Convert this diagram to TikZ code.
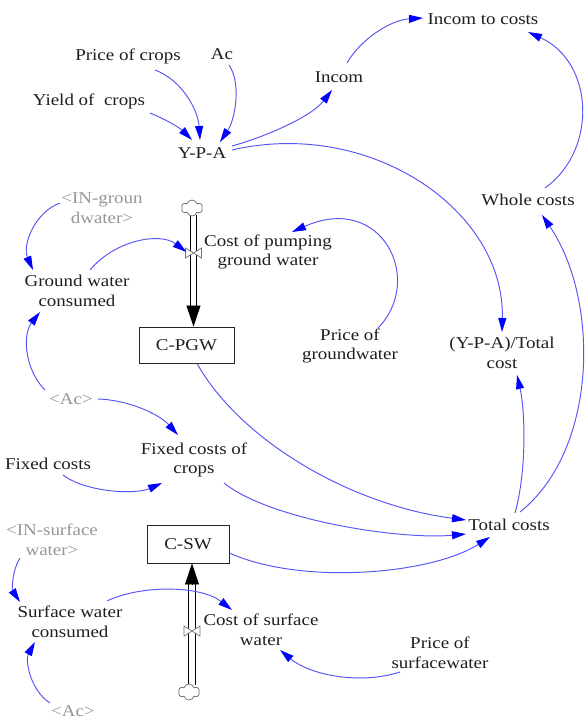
\documentclass[tikz,border=0pt]{standalone}
\usepackage{fontspec}
\setmainfont{Liberation Serif}[FakeStretch=1.15]
\usetikzlibrary{arrows.meta,calc,shapes.symbols}
\definecolor{lnk}{RGB}{85,85,245}
\definecolor{tipblue}{RGB}{0,0,255}
\definecolor{txt}{RGB}{30,30,30}
\definecolor{shadowtxt}{RGB}{150,150,150}
\begin{document}
\begin{tikzpicture}[x=1pt,y=-1pt,
  lbl/.style={font=\fontsize{16.5}{19.5}\selectfont, text=txt, align=center, inner sep=1pt},
  shd/.style={lbl, text=shadowtxt},
  stockbox/.style={lbl, draw=black!85, line width=0.9pt, inner sep=0pt},
  link/.style={draw=lnk, line width=0.95pt, -{Triangle[length=14pt,width=8pt,color=tipblue]}},
  pipeline/.style={draw=black, line width=0.75pt},
  flowtip/.style={-{Triangle[length=21pt,width=14pt,color=black]}, line width=0.7pt},
  valvestyle/.style={draw=black!55, fill=white, line width=0.7pt},
  cloudstyle/.style={cloud, cloud puffs=6, draw=black!60, fill=white, line width=0.7pt, minimum width=21pt, minimum height=16pt, inner sep=0pt, aspect=1.3}
]
\useasboundingbox (0,0) rectangle (585,720);

% variables
\node[lbl] (inc2c) at (483,19) {Incom to costs};
\node[lbl] (poc) at (128,56) {Price of crops};
\node[lbl] (ac) at (222,54) {Ac};
\node[lbl] (yoc) at (89,101) {Yield of\ \ crops};
\node[lbl] (ypa) at (202,153) {Y-P-A};
\node[lbl] (incom) at (339,77) {Incom};
\node[lbl] (whole) at (528,200) {Whole costs};
\node[shd] (ingw) at (102,208) {<IN-groun\\dwater>};
\node[lbl] (cpgw) at (268,252) {Cost of pumping\\ground water};
\node[lbl] (gwc) at (77,291) {Ground water\\consumed};
\node[stockbox, minimum width=95pt, minimum height=36pt] (cpgwbox) at (186.5,345) {C-PGW};
\node[lbl] (pgw) at (350,346) {Price of\\groundwater};
\node[lbl] (ratio) at (502,353) {(Y-P-A)/Total\\cost};
\node[shd] (acm) at (71,399) {<Ac>};
\node[lbl] (fcc) at (194,460) {Fixed costs of\\crops};
\node[lbl] (fc) at (48,464) {Fixed costs};
\node[lbl] (tc) at (509,525) {Total costs};
\node[shd] (insw) at (52,540) {<IN-surface\\water>};
\node[stockbox, minimum width=82pt, minimum height=38pt] (cswbox) at (188,544) {C-SW};
\node[lbl] (swc) at (70,622) {Surface water\\consumed};
\node[lbl] (cswt) at (261,630) {Cost of surface\\water};
\node[lbl] (psw) at (440,653) {Price of\\surfacewater};
\node[shd] (acb) at (73,711) {<Ac>};

% flow 1 (into C-PGW)
\coordinate (c1bot) at (193.5,215);
\coordinate (valve1) at (193.5,253);
\coordinate (fa1) at (193.5,306);
\draw[pipeline] ([xshift=-3.2pt]c1bot) -- ([xshift=-3.2pt]fa1);
\draw[pipeline] ([xshift=3.2pt]c1bot) -- ([xshift=3.2pt]fa1);
\node[cloudstyle] (cloud1) at (192,208) {};
\draw[flowtip] (fa1) -- (cpgwbox.north -| fa1);
\draw[valvestyle, shift={(valve1)}] (-8,-5) -- (-8,5) -- (8,-5) -- (8,5) -- cycle;

% flow 2 (into C-SW)
\coordinate (c2top) at (192,685);
\coordinate (valve2) at (192,631);
\coordinate (fa2) at (192,584);
\draw[pipeline] ([xshift=-3.2pt]c2top) -- ([xshift=-3.2pt]fa2);
\draw[pipeline] ([xshift=3.2pt]c2top) -- ([xshift=3.2pt]fa2);
\node[cloudstyle] (cloud2) at (189,692) {};
\draw[flowtip] (fa2) -- (cswbox.south -| fa2);
\draw[valvestyle, shift={(valve2)}] (-8,-5) -- (-8,5) -- (8,-5) -- (8,5) -- cycle;

% links
\draw[link] ($(poc)+(27,14)$) .. controls (182,80) and (198,110) .. ($(ypa)+(-2,-13)$);
\draw[link] ($(ac)+(7,11)$) .. controls (241,82) and (236,118) .. ($(ypa)+(18,-11)$);
\draw[link] ($(yoc)+(61,12)$) .. controls (165,119) and (180,128) .. ($(ypa)+(-10,-13)$);
\draw[link] ($(ypa)+(30,-7)$) .. controls (268,136) and (312,116) .. ($(incom)+(-7,13)$);
\draw[link] ($(incom)+(8,-14)$) .. controls (360,40) and (390,20) .. ($(inc2c)+(-60,-1)$);
\draw[link] ($(whole)+(17,-12)$) .. controls (598,150) and (594,62) .. ($(inc2c)+(45,13)$);
\draw[link] ($(ypa)+(30,-3)$) .. controls (370,118) and (505,210) .. ($(ratio)+(0,-21)$);
\draw[link] ($(tc)+(6,-12)$) .. controls (527,470) and (525,410) .. ($(ratio)+(15,22)$);
\draw[link] ($(tc)+(11,-13)$) .. controls (598,450) and (600,300) .. ($(whole)+(14,15)$);
\draw[link] ($(cpgwbox.south)+(10.5,0)$) .. controls (240,440) and (350,505) .. ($(tc)+(-43,-5)$);
\draw[link] ($(fcc)+(30,23)$) .. controls (270,520) and (400,540) .. ($(tc)+(-43,9)$);
\draw[link] ($(cswbox.east)+(0,9)$) .. controls (300,585) and (430,575) .. ($(tc)+(-19,12)$);
\draw[link] ($(acm)+(27,0)$) .. controls (130,400) and (160,415) .. ($(fcc)+(-16,-25)$);
\draw[link] ($(fc)+(15,11)$) .. controls (85,492) and (135,495) .. ($(fcc)+(-32,23)$);
\draw[link] ($(acm)+(-26,-9)$) .. controls (25,370) and (22,335) .. ($(gwc)+(-37,21)$);
\draw[link] ($(ingw)+(-42,-5)$) .. controls (35,212) and (22,245) .. ($(gwc)+(-44,-21)$);
\draw[link] ($(gwc)+(13,-21)$) .. controls (115,240) and (160,232) .. ($(valve1)+(-7,-1)$);
\draw[link] ($(pgw)+(28,-18)$) .. controls (425,280) and (382,192) .. ($(cpgw)+(24,-20)$);
\draw[link] ($(insw)+(-32,18)$) .. controls (12,570) and (12,590) .. ($(swc)+(-50,-20)$);
\draw[link] ($(acb)+(-23,-8)$) .. controls (30,690) and (25,660) .. ($(swc)+(-35,20)$);
\draw[link] ($(swc)+(37,-21)$) .. controls (140,585) and (200,585) .. ($(cswt)+(-29,-20)$);
\draw[link] ($(psw)+(-40,19)$) .. controls (360,685) and (310,675) .. ($(cswt)+(19,20)$);
\end{tikzpicture}
\end{document}
